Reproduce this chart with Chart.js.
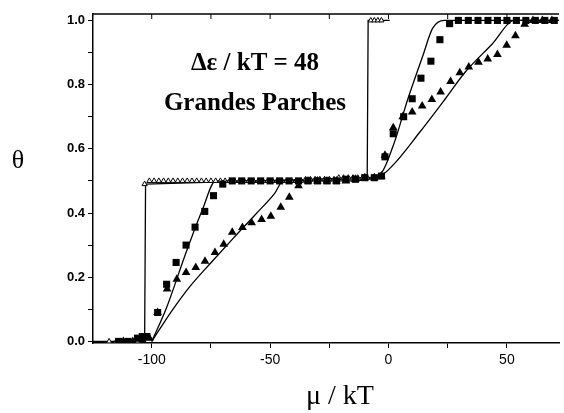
<!DOCTYPE html>
<html>
<head>
<meta charset="utf-8">
<script src="https://cdn.jsdelivr.net/npm/chart.js@4"></script>
<style>
  html, body { margin: 0; padding: 0; background: #fff; }
  #wrap { width: 564px; height: 413px; position: relative; }
</style>
</head>
<body>
<div id="wrap"><canvas id="thetaChart"></canvas></div>
<script>
// axis ticks
const xTicks = [-100, -75, -50, -25, 0, 25, 50];
const xLabels = [-100, -50, 0, 50];
const yTicks = [0, 0.1, 0.2, 0.3, 0.4, 0.5, 0.6, 0.7, 0.8, 0.9, 1.0];
const yLabels = [0, 0.2, 0.4, 0.6, 0.8, 1.0];

// open triangles (step isotherm)
const openMu = [-118, -115, -112, -109, -106,
  -103, -101, -99, -97, -95, -93, -91, -89, -87, -85, -83, -81, -79, -77, -75,
  -73, -71, -69, -67, -65, -63, -61, -59, -57, -55, -53, -51, -49, -47, -45,
  -43, -41, -39, -37, -35, -33, -31, -29, -27, -25, -23, -21, -19, -17, -15,
  -13, -11, -9, -7.5, -6, -4.5, -3];
const openTheta = [0, 0, 0, 0, 0,
  0.49, 0.5, 0.5, 0.5, 0.5, 0.5, 0.5, 0.5, 0.5, 0.5, 0.5, 0.5, 0.5, 0.5, 0.5,
  0.5, 0.5, 0.5, 0.5, 0.5, 0.5, 0.5, 0.5, 0.5, 0.5, 0.5, 0.5, 0.5, 0.5, 0.5,
  0.5, 0.5, 0.5, 0.5, 0.505, 0.505, 0.505, 0.505, 0.505, 0.505, 0.505, 0.51, 0.51, 0.51, 0.51,
  0.51, 0.51, 0.51, 1.0, 1.0, 1.0, 1.0];

// filled squares
const squareMu = [-114, -110, -106, -104, -102, -97.5, -93.7, -89.7, -85.5, -81.7,
  -77.6, -73.9, -70, -66, -62, -58, -54, -50, -46, -42,
  -38, -34, -30, -26, -22, -18, -14, -10, -6, -3,
  -1.5, 2, 6.4, 10, 13.7, 17.9, 21.7, 25.8, 29.5, 33.7,
  37.8, 42, 46, 50, 54, 58, 62, 66, 70];
const squareTheta = [0, 0, 0.01, 0.015, 0.015, 0.09, 0.178, 0.246, 0.30, 0.356,
  0.405, 0.454, 0.49, 0.5, 0.5, 0.5, 0.5, 0.5, 0.5, 0.5,
  0.5, 0.5, 0.5, 0.5, 0.5, 0.505, 0.505, 0.51, 0.51, 0.515,
  0.575, 0.647, 0.70, 0.756, 0.82, 0.873, 0.94, 0.99, 1, 1,
  1, 1, 1, 1, 1, 1, 1, 1, 1];

// filled triangles
const triMu = [-112, -108, -104, -101, -97.5, -93.5, -89.4, -85.5, -81.4,
  -77.5, -73.3, -69.6, -66, -61.7, -57.8, -53.6, -49.7, -45.5, -41.9,
  -38, -34, -30, -26, -22, -18, -14, -10, -6, -3,
  -1.5, 2, 6, 10, 14.2, 18.3, 22, 26.2, 30.1, 33.9,
  38, 41.9, 46, 49.9, 53.6, 57.5, 61, 65, 69];
const triTheta = [0, 0, 0.005, 0.01, 0.09, 0.163, 0.194, 0.215, 0.23,
  0.25, 0.277, 0.303, 0.34, 0.355, 0.37, 0.38, 0.39, 0.418, 0.449,
  0.485, 0.5, 0.5, 0.5, 0.5, 0.5, 0.505, 0.51, 0.51, 0.515,
  0.58, 0.666, 0.70, 0.715, 0.733, 0.754, 0.777, 0.81, 0.837, 0.855,
  0.87, 0.88, 0.894, 0.923, 0.952, 0.988, 1, 1, 1];

// theory curves
const stepMu = [-125, -103, -102.6, -9, -8.6, 0.5];
const stepTheta = [0, 0, 0.49, 0.51, 1.0, 1.0];
const steepMu = [-100, -94, -85.5, -78.6, -73, -40, -10, -3.6, 2, 8.2, 14.5, 18.6, 23.5, 72];
const steepTheta = [0, 0.1, 0.277, 0.41, 0.5, 0.5, 0.51, 0.52, 0.61, 0.756, 0.89, 0.975, 1, 1];
const slowMu = [-100, -92, -84, -75, -66, -56, -48, -44.5, -20, -3.6, 2, 13, 24, 32.5, 43.6, 53.3, 72];
const slowTheta = [0, 0.09, 0.17, 0.245, 0.318, 0.397, 0.462, 0.5, 0.5, 0.515, 0.55, 0.65, 0.756, 0.84, 0.925, 1, 1];

const pts = (xs, ys) => xs.map((x, i) => ({ x: x, y: ys[i] }));

const lineSet = (xs, ys, mode) => ({
    data: pts(xs, ys),
    showLine: true,
    borderColor: '#000',
    borderWidth: 1.3,
    pointRadius: 0,
    cubicInterpolationMode: mode,
    order: 2
});

// frame, inward ticks and free texts
const paperFrame = {
    id: 'paperFrame',
    afterDraw(chart) {
        const { ctx, chartArea: a, scales: { x } } = chart;
        ctx.save();
        ctx.strokeStyle = '#000';
        ctx.lineWidth = 1.5;
        ctx.beginPath();
        ctx.moveTo(a.left, a.top);
        ctx.lineTo(a.right, a.top);
        ctx.stroke();
        ctx.lineWidth = 1;
        xTicks.forEach(v => {
            const px = x.getPixelForValue(v);
            ctx.beginPath();
            ctx.moveTo(px, a.top);
            ctx.lineTo(px, a.top + 5);
            ctx.stroke();
        });

        ctx.fillStyle = '#000';
        ctx.textAlign = 'center';
        ctx.textBaseline = 'middle';
        ctx.font = 'bold 25px "Liberation Serif"';
        ctx.fillText('Δε / kT = 48', 255, 64);
        ctx.fillText('Grandes Parches', 255, 104);
        ctx.font = '26px "Liberation Serif"';
        ctx.fillText('θ', 18, 161);
        ctx.font = '28px "Liberation Serif"';
        ctx.fillText('μ / kT', 340, 397);
        ctx.restore();
    }
};

new Chart(document.getElementById('thetaChart'), {
    type: 'scatter',
    plugins: [paperFrame],
    data: {
        datasets: [
            lineSet(stepMu, stepTheta, 'default'),
            lineSet(steepMu, steepTheta, 'monotone'),
            lineSet(slowMu, slowTheta, 'monotone'),
            {
                data: pts(openMu, openTheta),
                pointStyle: 'triangle',
                pointRadius: 3,
                backgroundColor: '#fff',
                borderColor: '#000',
                borderWidth: 1,
                order: 1
            },
            {
                data: pts(squareMu, squareTheta),
                pointStyle: 'rect',
                pointRadius: 5,
                backgroundColor: '#000',
                borderColor: '#000',
                borderWidth: 0,
                order: 0
            },
            {
                data: pts(triMu, triTheta),
                pointStyle: 'triangle',
                pointRadius: 5,
                backgroundColor: '#000',
                borderColor: '#000',
                borderWidth: 0,
                order: 0
            }
        ]
    },
    options: {
        responsive: true,
        maintainAspectRatio: false,
        animation: false,
        layout: { padding: { left: 0, right: 0, top: 14, bottom: 0 } },
        plugins: {
            legend: { display: false },
            tooltip: { enabled: false }
        },
        scales: {
            x: {
                type: 'linear',
                min: -124.8,
                max: 72,
                afterBuildTicks: scale => { scale.ticks = xTicks.map(v => ({ value: v })); },
                afterFit: scale => { scale.height = 70; },
                ticks: {
                    autoSkip: false,
                    maxRotation: 0,
                    padding: 4,
                    color: '#000',
                    font: { family: '"Liberation Sans"', size: 14 },
                    callback: v => xLabels.includes(v) ? String(v) : ''
                },
                grid: { drawOnChartArea: false, tickLength: 5, color: '#000' },
                border: { color: '#000', width: 1.5 }
            },
            y: {
                type: 'linear',
                min: -0.005,
                max: 1.02,
                afterBuildTicks: scale => { scale.ticks = yTicks.map(v => ({ value: v })); },
                afterFit: scale => { scale.width = 93; },
                ticks: {
                    autoSkip: false,
                    padding: 3,
                    color: '#000',
                    font: { family: '"Liberation Sans"', size: 13, weight: 'bold' },
                    callback: v => yLabels.some(l => Math.abs(l - v) < 1e-6) ? v.toFixed(1) : ''
                },
                grid: { drawOnChartArea: false, tickLength: 5, color: '#000' },
                border: { color: '#000', width: 1.5 }
            }
        }
    }
});
</script>
</body>
</html>
